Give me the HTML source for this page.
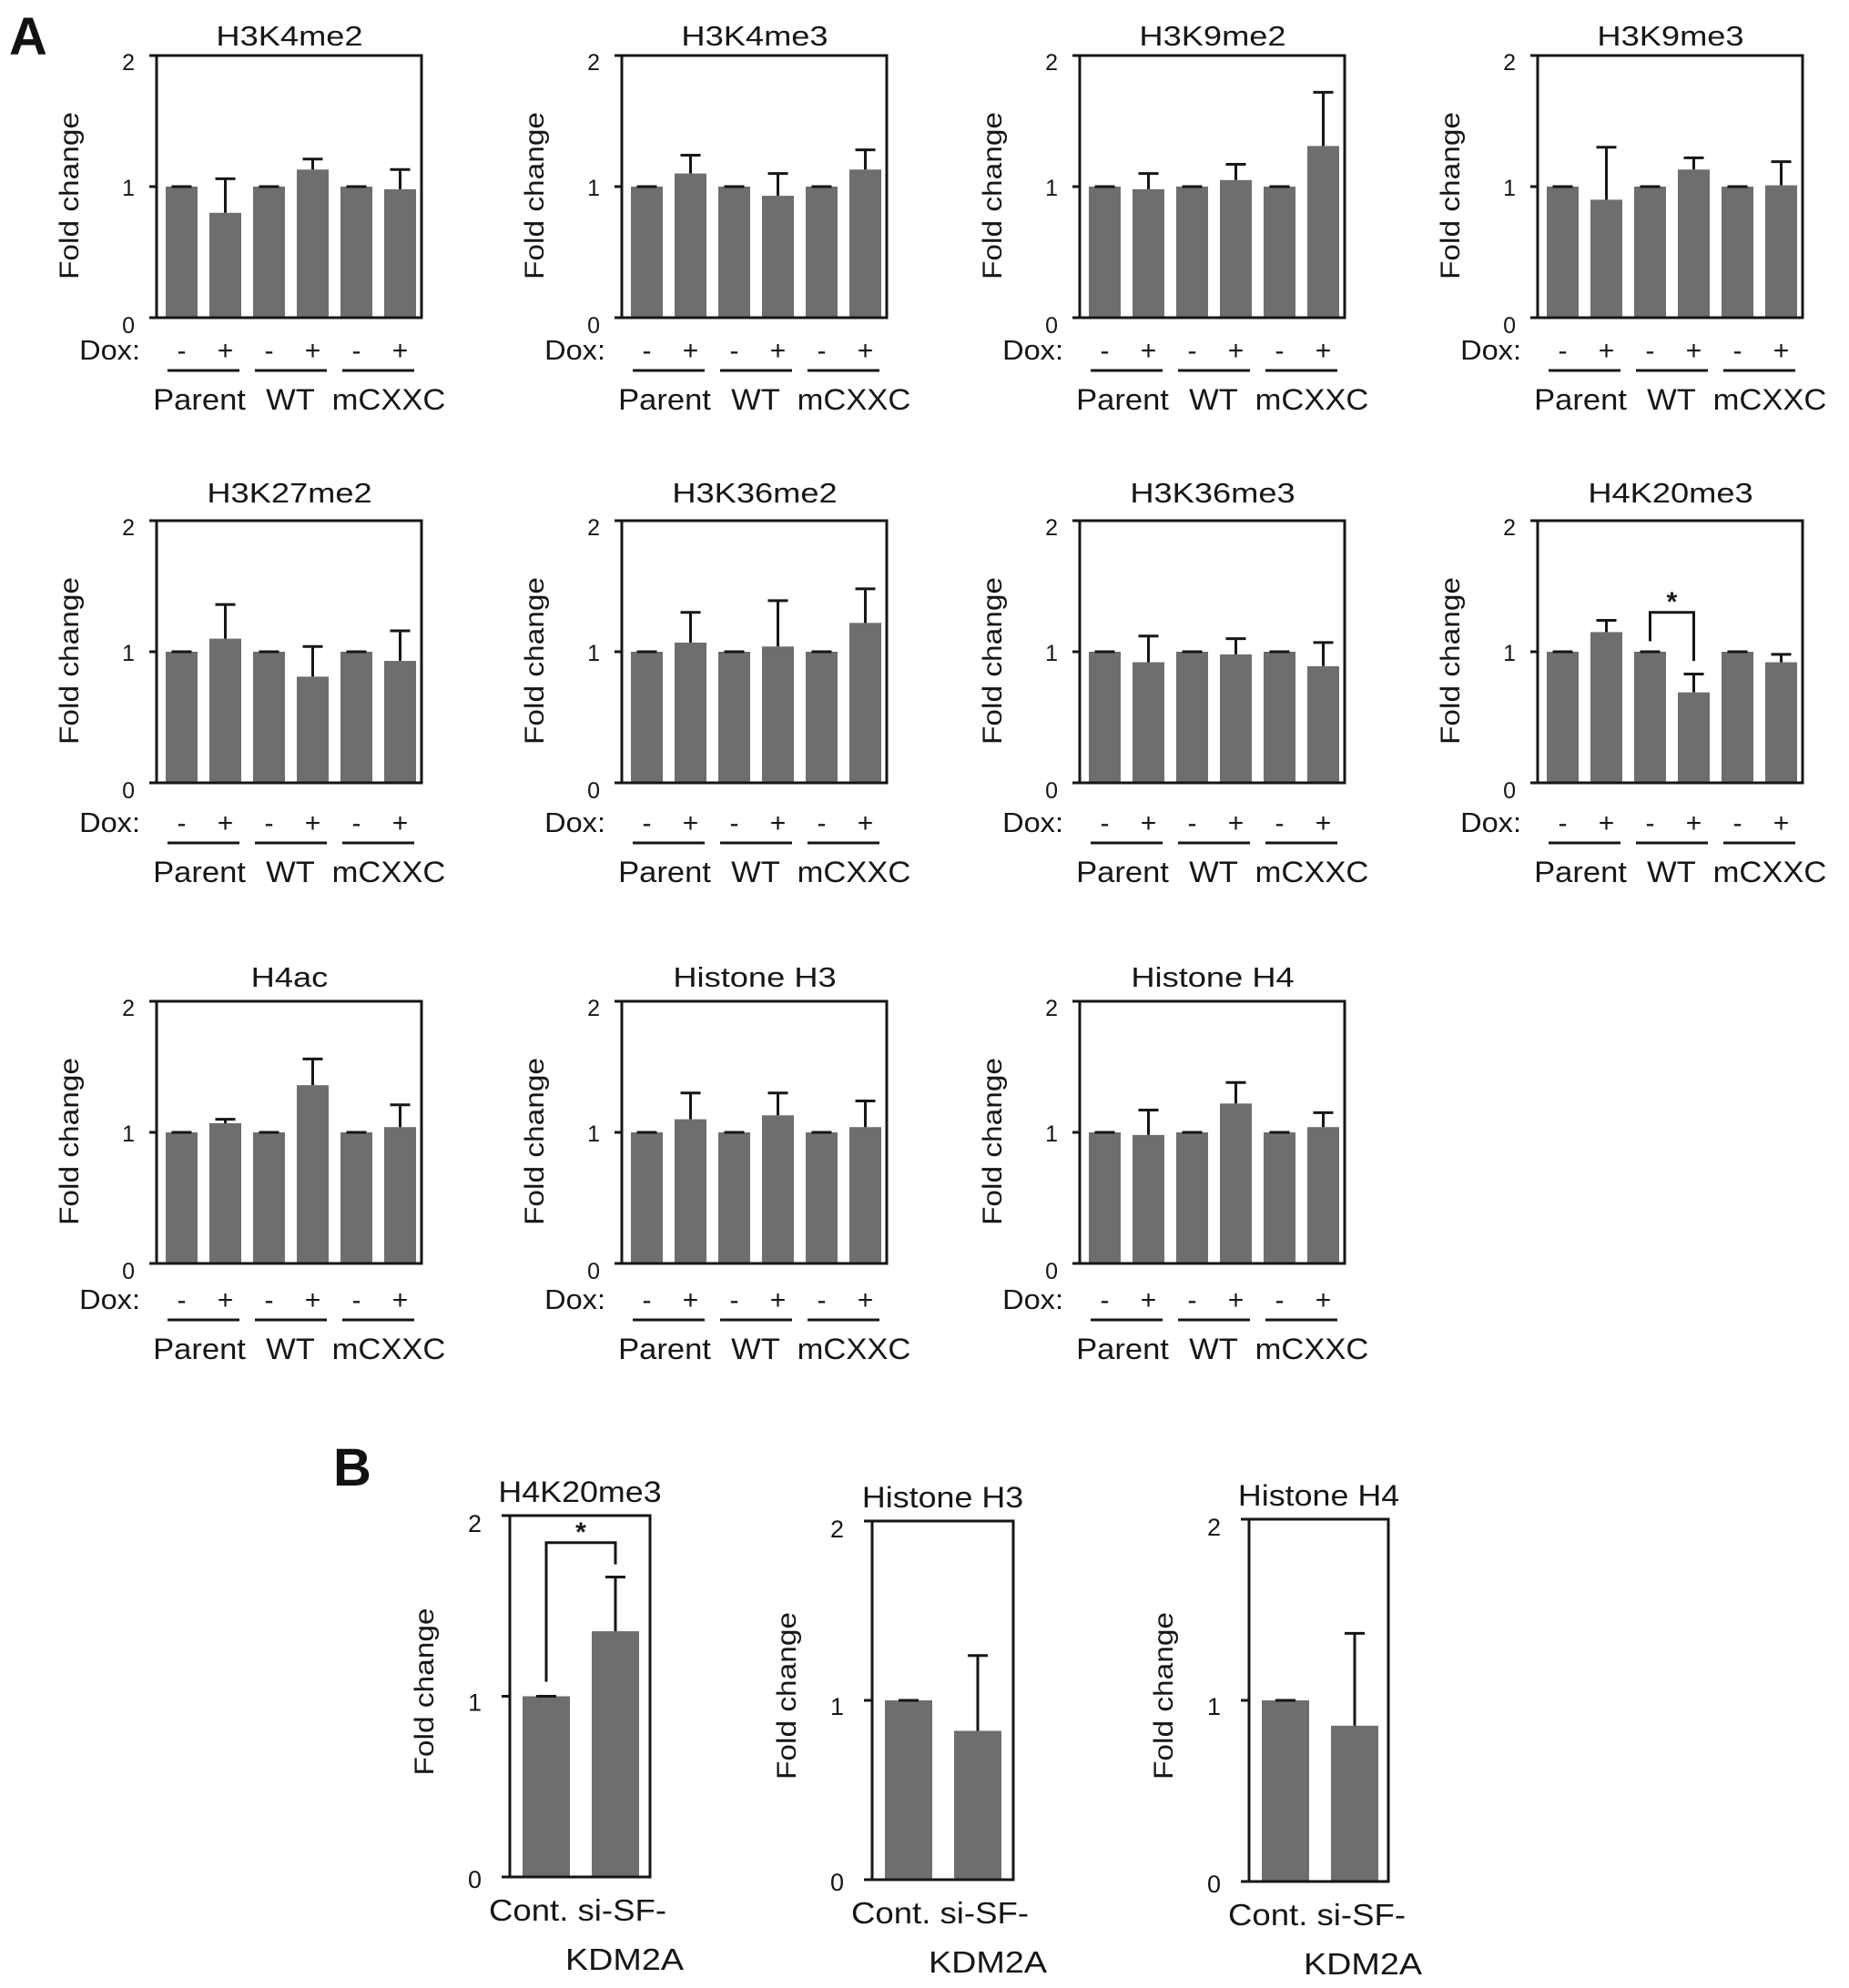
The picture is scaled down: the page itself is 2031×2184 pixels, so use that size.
<!DOCTYPE html>
<html><head><meta charset="utf-8"><style>
html,body{margin:0;padding:0;background:#fff;}
svg{display:block;font-family:"Liberation Sans",Arial,sans-serif;}
</style></head><body>
<svg id="fig" width="2031" height="2184" viewBox="0 0 2031 2184" xmlns="http://www.w3.org/2000/svg">
<text x="10" y="60" font-size="58" font-weight="bold" fill="#111">A</text>
<text x="366" y="1632" font-size="58" font-weight="bold" fill="#111">B</text>
</svg>
<script>
// ---- Panel A data ----
const aTitles = ["H3K4me2","H3K4me3","H3K9me2","H3K9me3","H3K27me2","H3K36me2","H3K36me3","H4K20me3","H4ac","Histone H3","Histone H4"];
const aDox = ["-","+","-","+","-","+"];
const aGroups = ["Parent","WT","mCXXC"];
const aTicks = [0,1,2];
const aValues = [
 [1,0.80,1,1.13,1,0.98],
 [1,1.10,1,0.93,1,1.13],
 [1,0.98,1,1.05,1,1.31],
 [1,0.90,1,1.13,1,1.01],
 [1,1.10,1,0.81,1,0.93],
 [1,1.07,1,1.04,1,1.22],
 [1,0.92,1,0.98,1,0.89],
 [1,1.15,1,0.69,1,0.92],
 [1,1.07,1,1.36,1,1.04],
 [1,1.10,1,1.13,1,1.04],
 [1,0.98,1,1.22,1,1.04]
];
const aErrors = [
 [0,0.26,0,0.08,0,0.15],
 [0,0.14,0,0.17,0,0.15],
 [0,0.12,0,0.12,0,0.41],
 [0,0.40,0,0.09,0,0.18],
 [0,0.26,0,0.23,0,0.23],
 [0,0.23,0,0.35,0,0.26],
 [0,0.20,0,0.12,0,0.18],
 [0,0.09,0,0.14,0,0.06],
 [0,0.03,0,0.20,0,0.17],
 [0,0.20,0,0.17,0,0.20],
 [0,0.19,0,0.16,0,0.11]
];
// significance bracket in H4K20me3 panel (bar indices and heights)
const aSigPanel = 7;
const aSigBars = [2,3];
const aSigLevels = [1.08,1.30,0.93];
// ---- Panel B data ----
const bTitles = ["H4K20me3","Histone H3","Histone H4"];
const bCats = ["Cont.","si-SF-KDM2A"];
const bValues = [[1,1.36],[1,0.83],[1,0.86]];
const bErrors = [[0,0.30],[0,0.42],[0,0.51]];
const bSigBars = [0,1];
const bSigLevels = [1.08,1.85,1.73];

const NS="http://www.w3.org/2000/svg";
const svg=document.getElementById('fig');
const BAR="#6e6e6e", INK="#161616";
function mk(tag,attrs,parent){const e=document.createElementNS(NS,tag);for(const k in attrs)e.setAttribute(k,attrs[k]);(parent||svg).appendChild(e);return e;}
function txt(x,y,s,size,anchor,sx,parent){const g=mk('g',{transform:`translate(${x},${y}) scale(${sx},1)`},parent);const t=mk('text',{x:0,y:0,'font-size':size,'text-anchor':anchor,fill:INK},g);t.textContent=s;return t;}

const lefts=[172,683,1186,1689], tops=[61,572,1100];
const W=291,H=288;
const titleOff=[11,20,16], rowShift=[0,8,4];

aTitles.forEach((title,p)=>{
  const r=Math.floor(p/4), c=p%4;
  const L=lefts[c], T=tops[r], Bt=T+H, sh=rowShift[r];
  const y=v=>Bt - v*H/2;
  const xb=i=>L+10+i*48;
  const bw=35;
  const g=mk('g',{});
  
  
  aValues[p].forEach((v,i)=>{
    const b=mk('rect',{x:xb(i),y:y(v),width:bw,height:Bt-y(v),fill:BAR},g);
    
    
    const e=aErrors[p][i], cx=xb(i)+bw/2;
    const eg=mk('g',{stroke:INK,'stroke-width':3},g);
    
    
    mk('line',{x1:cx,x2:cx,y1:y(v),y2:y(v+e)},eg);
    mk('line',{x1:cx-11,x2:cx+11,y1:y(v+e),y2:y(v+e)},eg);
  });
  const fr=mk('rect',{x:L,y:T,width:W,height:H,fill:'none',stroke:INK,'stroke-width':3},g);
  
  
  aTicks.forEach(t=>{
    mk('line',{x1:L-8,x2:L,y1:y(t),y2:y(t),stroke:INK,'stroke-width':3},g);
    const base = t===2? y(t)+16 : (t===0? y(t)+17 : y(t)+10);
    const tl=txt(L-24,base,String(t),25,'end',1,g);
    
    
  });
  const yl=mk('text',{transform:`translate(${L-86},${T+154}) rotate(-90)`,'font-size':30,'text-anchor':'middle',fill:INK,textLength:184,lengthAdjust:'spacingAndGlyphs'},g);
  yl.textContent='Fold change';
  
  
  const tt=txt(L+146,T-titleOff[r],title,31,'middle',1.17,g);
  
  
  const dx=txt(L-18,T+334+sh,'Dox:',31,'end',1.05,g);
  
  
  aDox.forEach((s,i)=>{
    const d=txt(xb(i)+bw/2,T+334+sh,s,30,'middle',1,g);
    
    
  });
  const gc=[47,147,255];
  aGroups.forEach((gn,k)=>{
    const ul=mk('line',{x1:xb(2*k)+2,x2:xb(2*k+1)+bw-2,y1:T+346+sh,y2:T+346+sh,stroke:INK,'stroke-width':3},g);
    
    
    const gl=txt(L+gc[k],T+389+sh,gn,32,'middle',1.08,g);
    
    
  });
  if(p===aSigPanel){
    const x1=xb(aSigBars[0])+bw/2, x2=xb(aSigBars[1])+bw/2;
    const br=mk('polyline',{points:`${x1},${y(aSigLevels[0])} ${x1},${y(aSigLevels[1])} ${x2},${y(aSigLevels[1])} ${x2},${y(aSigLevels[2])}`,fill:'none',stroke:INK,'stroke-width':3},g);
    
    
    const st=txt((x1+x2)/2,y(aSigLevels[1])-2,'*',30,'middle',1,g);
    st.setAttribute('font-weight','bold');
    
    
  }
});

// ---- Panel B ----
const bL=[560,958,1372], bR=[714,1113,1525], bT=[1665,1671,1669], bB=[2062,2065,2067];
bTitles.forEach((title,p)=>{
  const L=bL[p], R=bR[p], T=bT[p], Bt=bB[p];
  const y=v=>Bt-v*(Bt-T)/2;
  const xb=i=>L+14+i*76;
  const bw=52;
  const g=mk('g',{});
  
  
  bValues[p].forEach((v,i)=>{
    const b=mk('rect',{x:xb(i),y:y(v),width:bw,height:Bt-y(v),fill:BAR},g);
    
    
    const e=bErrors[p][i], cx=xb(i)+bw/2;
    const eg=mk('g',{stroke:INK,'stroke-width':3},g);
    
    
    mk('line',{x1:cx,x2:cx,y1:y(v),y2:y(v+e)},eg);
    mk('line',{x1:cx-11,x2:cx+11,y1:y(v+e),y2:y(v+e)},eg);
  });
  const fr=mk('rect',{x:L,y:T,width:R-L,height:Bt-T,fill:'none',stroke:INK,'stroke-width':3},g);
  
  
  aTicks.forEach(t=>{
    mk('line',{x1:L-9,x2:L,y1:y(t),y2:y(t),stroke:INK,'stroke-width':3},g);
    const base = t===2? y(t)+18 : (t===0? y(t)+12 : y(t)+16);
    const tl=txt(L-31,base,String(t),27,'end',1,g);
    
    
  });
  const yl=mk('text',{transform:`translate(${L-84},${(T+Bt)/2-5}) rotate(-90)`,'font-size':30,'text-anchor':'middle',fill:INK,textLength:184,lengthAdjust:'spacingAndGlyphs'},g);
  yl.textContent='Fold change';
  
  
  const tt=txt((L+R)/2,T-15,title,32,'middle',1.12,g);
  
  
  const c1=mk('text',{x:L-23,y:Bt+48,'font-size':33,fill:INK,textLength:195,lengthAdjust:'spacingAndGlyphs'},g);
  c1.textContent=bCats[0]+' si-SF-';
  
  
  const c2=mk('text',{x:R+37,y:Bt+102,'font-size':33,'text-anchor':'end',fill:INK,textLength:130,lengthAdjust:'spacingAndGlyphs'},g);
  c2.textContent='KDM2A';
  
  
  if(p===0){
    const x1=xb(bSigBars[0])+bw/2, x2=xb(bSigBars[1])+bw/2;
    const br=mk('polyline',{points:`${x1},${y(bSigLevels[0])} ${x1},${y(bSigLevels[1])} ${x2},${y(bSigLevels[1])} ${x2},${y(bSigLevels[2])}`,fill:'none',stroke:INK,'stroke-width':3},g);
    
    
    const st=txt((x1+x2)/2,y(bSigLevels[1])-2,'*',30,'middle',1,g);
    st.setAttribute('font-weight','bold');
    
    
  }
});
</script>
</body></html>
